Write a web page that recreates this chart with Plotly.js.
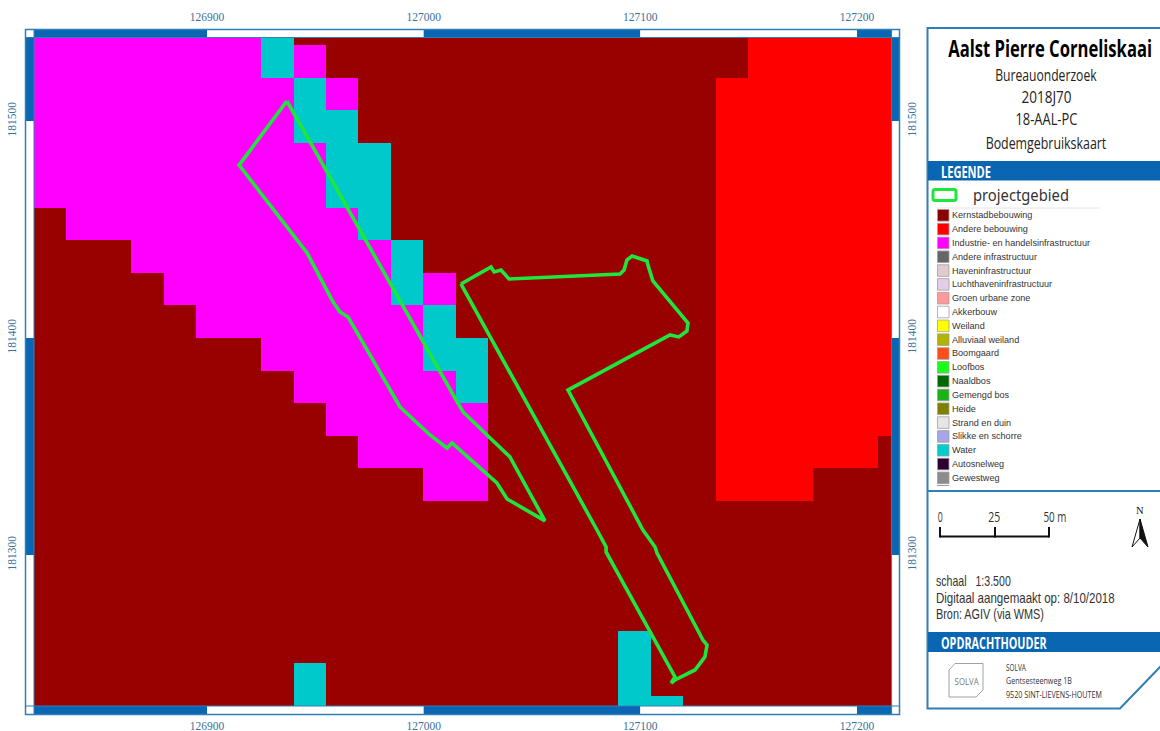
<!DOCTYPE html>
<html><head><meta charset="utf-8">
<script src="https://cdn.plot.ly/plotly-3.0.1.min.js"></script>
<style>html,body{margin:0;padding:0;background:#fff}#g{width:1160px;height:731px}</style>
</head><body><div id="g"></div>
<script>
// Land-use raster: 15 m cells, one letter per cell, top row first
var cellSize = 15;
var firstCellX = 126827.5;
var firstCellY = 181542.5;
var landUseRows = [
"MMMMMMMWKKKKKKKKKKKKKKRRRRR",
"MMMMMMMWMKKKKKKKKKKKKKRRRRR",
"MMMMMMMMWMKKKKKKKKKKKRRRRRR",
"MMMMMMMMWWKKKKKKKKKKKRRRRRR",
"MMMMMMMMMWWKKKKKKKKKKRRRRRR",
"MMMMMMMMMWWKKKKKKKKKKRRRRRR",
"KMMMMMMMMMWKKKKKKKKKKRRRRRR",
"KKKMMMMMMMMWKKKKKKKKKRRRRRR",
"KKKKMMMMMMMWMKKKKKKKKRRRRRR",
"KKKKKMMMMMMMWKKKKKKKKRRRRRR",
"KKKKKKKMMMMMWWKKKKKKKRRRRRR",
"KKKKKKKKMMMMMWKKKKKKKRRRRRR",
"KKKKKKKKKMMMMMKKKKKKKRRRRRR",
"KKKKKKKKKKMMMMKKKKKKKRRRRRK",
"KKKKKKKKKKKKMMKKKKKKKRRRKKK",
"KKKKKKKKKKKKKKKKKKKKKKKKKKK",
"KKKKKKKKKKKKKKKKKKKKKKKKKKK",
"KKKKKKKKKKKKKKKKKKKKKKKKKKK",
"KKKKKKKKKKKKKKKKKKKKKKKKKKK",
"KKKKKKKKKKKKKKKKKKWKKKKKKKK",
"KKKKKKKKWKKKKKKKKKWKKKKKKKK",
"KKKKKKKKWKKKKKKKKKWWKKKKKKK"
];
var classLetters = ["K","R","M","W"];
var classColors = ["#990000","#ff0000","#ff00ff","#00c9cc"];

// Project area outlines, map coordinates
var areaWestX = [126936.9,126914.8,126946.2,126958.2,126961.4,126965.1,126989.1,127002.9,127010.8,127013.1,127033.8,127038.5,127056.0,127039.8,127030.2,127018.2,127015.8,126936.9];
var areaWestY = [181509.2,181479.7,181439.2,181416.6,181412.0,181409.7,181368.2,181355.3,181349.3,181351.6,181333.2,181325.8,181315.7,181345.2,181354.4,181365.9,181370.0,181509.2];
var areaEastX = [127017.2,127031.1,127032.5,127035.7,127039.4,127090.6,127092.5,127093.8,127096.2,127103.1,127103.5,127105.8,127122.0,127121.5,127117.8,127113.7,127066.6,127101.2,127106.8,127107.7,127128.9,127130.8,127129.8,127125.2,127116.0,127114.2,127116.0,127085.1,127084.2,127084.2,127080.0,127017.2];
var areaEastY = [181424.9,181432.7,181430.4,181431.3,181427.2,181429.5,181431.3,181435.9,181437.8,181435.5,181433.6,181426.3,181406.9,181403.2,181400.5,181401.4,181376.0,181311.5,181303.7,181300.9,181260.8,181258.5,181253.0,181247.0,181242.4,181241.0,181243.8,181300.0,181301.4,181303.7,181311.5,181424.9];

var xTicks = [126900,127000,127100,127200];
var yTicks = [181500,181400,181300];
var xRange = [126820.15,127215.97];
var yRange = [181230.4,181538.48];

var titleText = "Aalst Pierre Corneliskaai";
var subtitleLines = ["Bureauonderzoek","2018J70","18-AAL-PC","Bodemgebruikskaart"];
var legendLabels = ["Kernstadbebouwing","Andere bebouwing","Industrie- en handelsinfrastructuur","Andere infrastructuur","Haveninfrastructuur","Luchthaveninfrastructuur","Groen urbane zone","Akkerbouw","Weiland","Alluviaal weiland","Boomgaard","Loofbos","Naaldbos","Gemengd bos","Heide","Strand en duin","Slikke en schorre","Water","Autosnelweg","Gewestweg"];
var legendColors = ["#8b0000","#ff0000","#ff00ff","#666666","#e0cccc","#e6cce6","#ff9999","#ffffff","#ffff00","#b3b300","#ff4d19","#19ff19","#006600","#19b319","#808000","#e6e6e6","#a6a6e6","#00cccc","#2d0033","#8c8c8c"];
var scaleLabels = ["0","25","50 m"];
var sourceLines = ["schaal   1:3.500","Digitaal aangemaakt op: 8/10/2018","Bron: AGIV (via WMS)"];
var addressLines = ["SOLVA","Gentsesteenweg 1B","9520 SINT-LIEVENS-HOUTEM"];

var W = 1160, H = 731;
var plotL = 34, plotR = 891.6, plotT = 37.5, plotB = 706;
var frameBlue = "#0a66b2", frameLine = "#2f7fb5";
var sans = "'Open Sans','Liberation Sans',sans-serif";
var px = function(v){return v/W;}, py = function(v){return 1-v/H;};
var mapX = function(v){return plotL+(v-xRange[0])/(xRange[1]-xRange[0])*(plotR-plotL);};
var mapY = function(v){return plotB-(v-yRange[0])/(yRange[1]-yRange[0])*(plotB-plotT);};

var z = landUseRows.map(function(r){return r.split("").map(function(c){return classLetters.indexOf(c);});});
var n = classColors.length-1;
var colorscale = classColors.map(function(c,i){return [i/n,c];});

var shapes = [], annotations = [], annFit = [];
function rect(x0,y0,x1,y1,fill,line,lw){
  shapes.push({type:"rect",xref:"paper",yref:"paper",x0:px(x0),x1:px(x1),y0:py(y0),y1:py(y1),
    fillcolor:fill||"rgba(0,0,0,0)",line:{color:line||"rgba(0,0,0,0)",width:lw||0},layer:"above"});
}
function seg(x0,y0,x1,y1,color,lw){
  shapes.push({type:"line",xref:"paper",yref:"paper",x0:px(x0),x1:px(x1),y0:py(y0),y1:py(y1),line:{color:color,width:lw},layer:"above"});
}
function path(points,close,fill,color,lw){
  var d = points.map(function(p,i){return (i?"L":"M")+px(p[0])+","+py(p[1]);}).join(" ")+(close?" Z":"");
  shapes.push({type:"path",xref:"paper",yref:"paper",path:d,fillcolor:fill||"rgba(0,0,0,0)",line:{color:color||"rgba(0,0,0,0)",width:lw||0},layer:"above"});
}
function text(t,x,y,size,opt){
  opt = opt||{};
  annFit.push({width:opt.width||0,anchor:opt.anchor||"left"});
  annotations.push({text:t,xref:"paper",yref:"paper",x:px(x),y:py(y),showarrow:false,
    xanchor:opt.anchor||"left",yanchor:"middle",align:opt.anchor||"left",
    font:{family:opt.family||sans,size:size,color:opt.color||"#222",weight:opt.weight||400},borderpad:0});
}

// map frame
var fL=25.5,fT=29.5,fR=899.5,fB=714.5;
var xEdges=[plotL].concat(xTicks.map(mapX),[plotR]);
var yEdges=[plotT].concat(yTicks.map(mapY),[plotB]);
for(var i=0;i<xEdges.length-1;i++){
  var c=i%2?"#ffffff":frameBlue;
  rect(xEdges[i],fT,xEdges[i+1],plotT,c);
  rect(xEdges[i],plotB,xEdges[i+1],fB,c);
}
for(i=0;i<yEdges.length-1;i++){
  c=i%2?"#ffffff":frameBlue;
  rect(fL,yEdges[i],plotL,yEdges[i+1],c);
  rect(plotR,yEdges[i],fR,yEdges[i+1],c);
}
rect(fL,fT,fR,fB,null,frameLine,1.5);
rect(plotL,plotT,plotR,plotB,null,frameLine,1);
seg(fL,plotT,plotL,plotT,frameLine,1);seg(plotL,fT,plotL,plotT,frameLine,1);
seg(plotR,fT,plotR,plotT,frameLine,1);seg(plotR,plotT,fR,plotT,frameLine,1);
seg(fL,plotB,plotL,plotB,frameLine,1);seg(plotL,plotB,plotL,fB,frameLine,1);
seg(plotR,plotB,plotR,fB,frameLine,1);seg(plotR,plotB,fR,plotB,frameLine,1);

// side panel
path([[1161,28],[927.5,28],[927.5,708.5],[1120,708.5],[1161,666]],false,null,frameLine,2);
seg(927.5,491,1161,491,frameLine,2);
rect(928,161,1161,180.5,frameBlue);
rect(928,632,1161,652,frameBlue);

text(titleText,1050,48,23,{anchor:"center",color:"#000",weight:700,width:204});
var subY=[75,97,119,143], subW=[102,50,62,121];
subtitleLines.forEach(function(t,i){text(t,1046,subY[i],16,{anchor:"center",color:"#222",width:subW[i]});});
text("LEGENDE",940,171,16.5,{color:"#fff",weight:700,width:50});
text("OPDRACHTHOUDER",940,642,16.5,{color:"#fff",weight:700,width:106});

// legend
shapes.push({type:"path",xref:"paper",yref:"paper",
  path:"M"+px(935)+","+py(189.5)+" L"+px(954)+","+py(189.5)+" Q"+px(956)+","+py(189.5)+" "+px(956)+","+py(191.5)+" L"+px(956)+","+py(198.5)+" Q"+px(956)+","+py(200.5)+" "+px(954)+","+py(200.5)+" L"+px(935)+","+py(200.5)+" Q"+px(933)+","+py(200.5)+" "+px(933)+","+py(198.5)+" L"+px(933)+","+py(191.5)+" Q"+px(933)+","+py(189.5)+" "+px(935)+","+py(189.5)+" Z",
  line:{color:"#1fe63a",width:3},fillcolor:"rgba(0,0,0,0)",layer:"above"});
text("projectgebied",972,194.5,15.5,{family:"'Noto Sans',sans-serif",color:"#333",width:96});
seg(937,208,1100,208,"#e4e4e4",1);
legendLabels.forEach(function(t,i){
  var cy=215.3+i*13.82;
  rect(937.5,cy-5.8,949,cy+5.8,legendColors[i],"#a0a0a0",0.8);
  text(t,951,cy,9.1,{family:"'Liberation Sans',sans-serif",color:"#333"});
});
seg(937,485.5,949,485.5,"#a0a0a0",1);

// scale bar
text(scaleLabels[0],940,516,14.5,{anchor:"center",color:"#333",width:5});
text(scaleLabels[1],994,516,14.5,{anchor:"center",color:"#333",width:12});
text(scaleLabels[2],1054.5,516,14.5,{anchor:"center",color:"#333",width:23});
seg(940,536.5,1049,536.5,"#111",2);
seg(940,527,940,537.5,"#111",2);seg(995,527,995,537.5,"#111",2);seg(1049,527,1049,537.5,"#111",2);

// north arrow
text("N",1140,511,10.5,{anchor:"center",family:"'Liberation Serif',serif",color:"#111"});
path([[1140,519],[1132,547],[1140,538]],true,"#ffffff","#111",1);
path([[1140,519],[1148,547],[1140,538]],true,"#111111","#111",1);

var sourceW=[75,179,108];
sourceLines.forEach(function(t,i){text(t,935,581+i*16.5,14,{family:"'Liberation Sans',sans-serif",color:"#333",width:sourceW[i]});});

// logo
path([[955,663.5],[983,663.5],[983,690],[976,697],[949,697],[949,670]],true,null,"#8a8a8a",0.8);
text("SOLVA",966,681,9.5,{anchor:"center",color:"#777",width:24});
var addrW=[20,66,96];
addressLines.forEach(function(t,i){text(t,1005,667+i*13.5,9.5,{color:"#333",width:addrW[i]});});

var tickFont = {family:"'Liberation Serif',serif",size:11.5,color:"#3a7199"};
var baseAxis = {showgrid:false,zeroline:false,showline:false,ticks:"outside",tickcolor:"rgba(0,0,0,0)",tickfont:tickFont,tickformat:"d",fixedrange:true,tickmode:"array"};
var layout = {
  width:W,height:H,margin:{l:0,r:0,t:0,b:0},paper_bgcolor:"#fff",plot_bgcolor:"#fff",showlegend:false,
  xaxis:Object.assign({},baseAxis,{domain:[px(plotL),px(plotR)],range:xRange,tickvals:xTicks,ticklen:9,anchor:"y"}),
  yaxis:Object.assign({},baseAxis,{domain:[py(plotB),py(plotT)],range:yRange,tickvals:yTicks,ticklen:12,tickangle:-90,anchor:"x"}),
  xaxis2:Object.assign({},baseAxis,{domain:[px(plotL),px(plotR)],range:xRange,tickvals:xTicks,ticklen:11,side:"top",overlaying:"x",anchor:"y"}),
  yaxis2:Object.assign({},baseAxis,{domain:[py(plotB),py(plotT)],range:yRange,tickvals:yTicks,ticklen:10,tickangle:-90,side:"right",overlaying:"y",anchor:"x"}),
  shapes:shapes,annotations:annotations
};
var outline = {color:"#1fe63a",width:3.6};
var traces = [
  {type:"heatmap",z:z,x0:firstCellX,dx:cellSize,y0:firstCellY,dy:-cellSize,colorscale:colorscale,zmin:0,zmax:n,showscale:false,zsmooth:false,hoverinfo:"skip"},
  {type:"scatter",mode:"lines",x:areaWestX,y:areaWestY,line:outline,hoverinfo:"skip"},
  {type:"scatter",mode:"lines",x:areaEastX,y:areaEastY,line:outline,hoverinfo:"skip"},
  {type:"scatter",mode:"none",x:xRange,y:yRange,xaxis:"x2",yaxis:"y2",hoverinfo:"skip"}
];
Plotly.newPlot("g",traces,layout,{displayModeBar:false,staticPlot:true}).then(function(gd){
  // Reference lettering is condensed and no condensed face is installed: narrow real text horizontally.
  gd.querySelectorAll(".annotation[data-index]").forEach(function(a){
    var fit = annFit[+a.getAttribute("data-index")];
    var el = a.querySelector("text.annotation-text");
    if(!fit || !fit.width || !el) return;
    var bb = el.getBBox();
    var sx = fit.width/bb.width;
    var pivot = fit.anchor==="center" ? bb.x+bb.width/2 : bb.x;
    var prev = el.getAttribute("transform")||"";
    el.setAttribute("transform",prev+" translate("+pivot+",0) scale("+sx+",1) translate("+(-pivot)+",0)");
  });
});
</script></body></html>
